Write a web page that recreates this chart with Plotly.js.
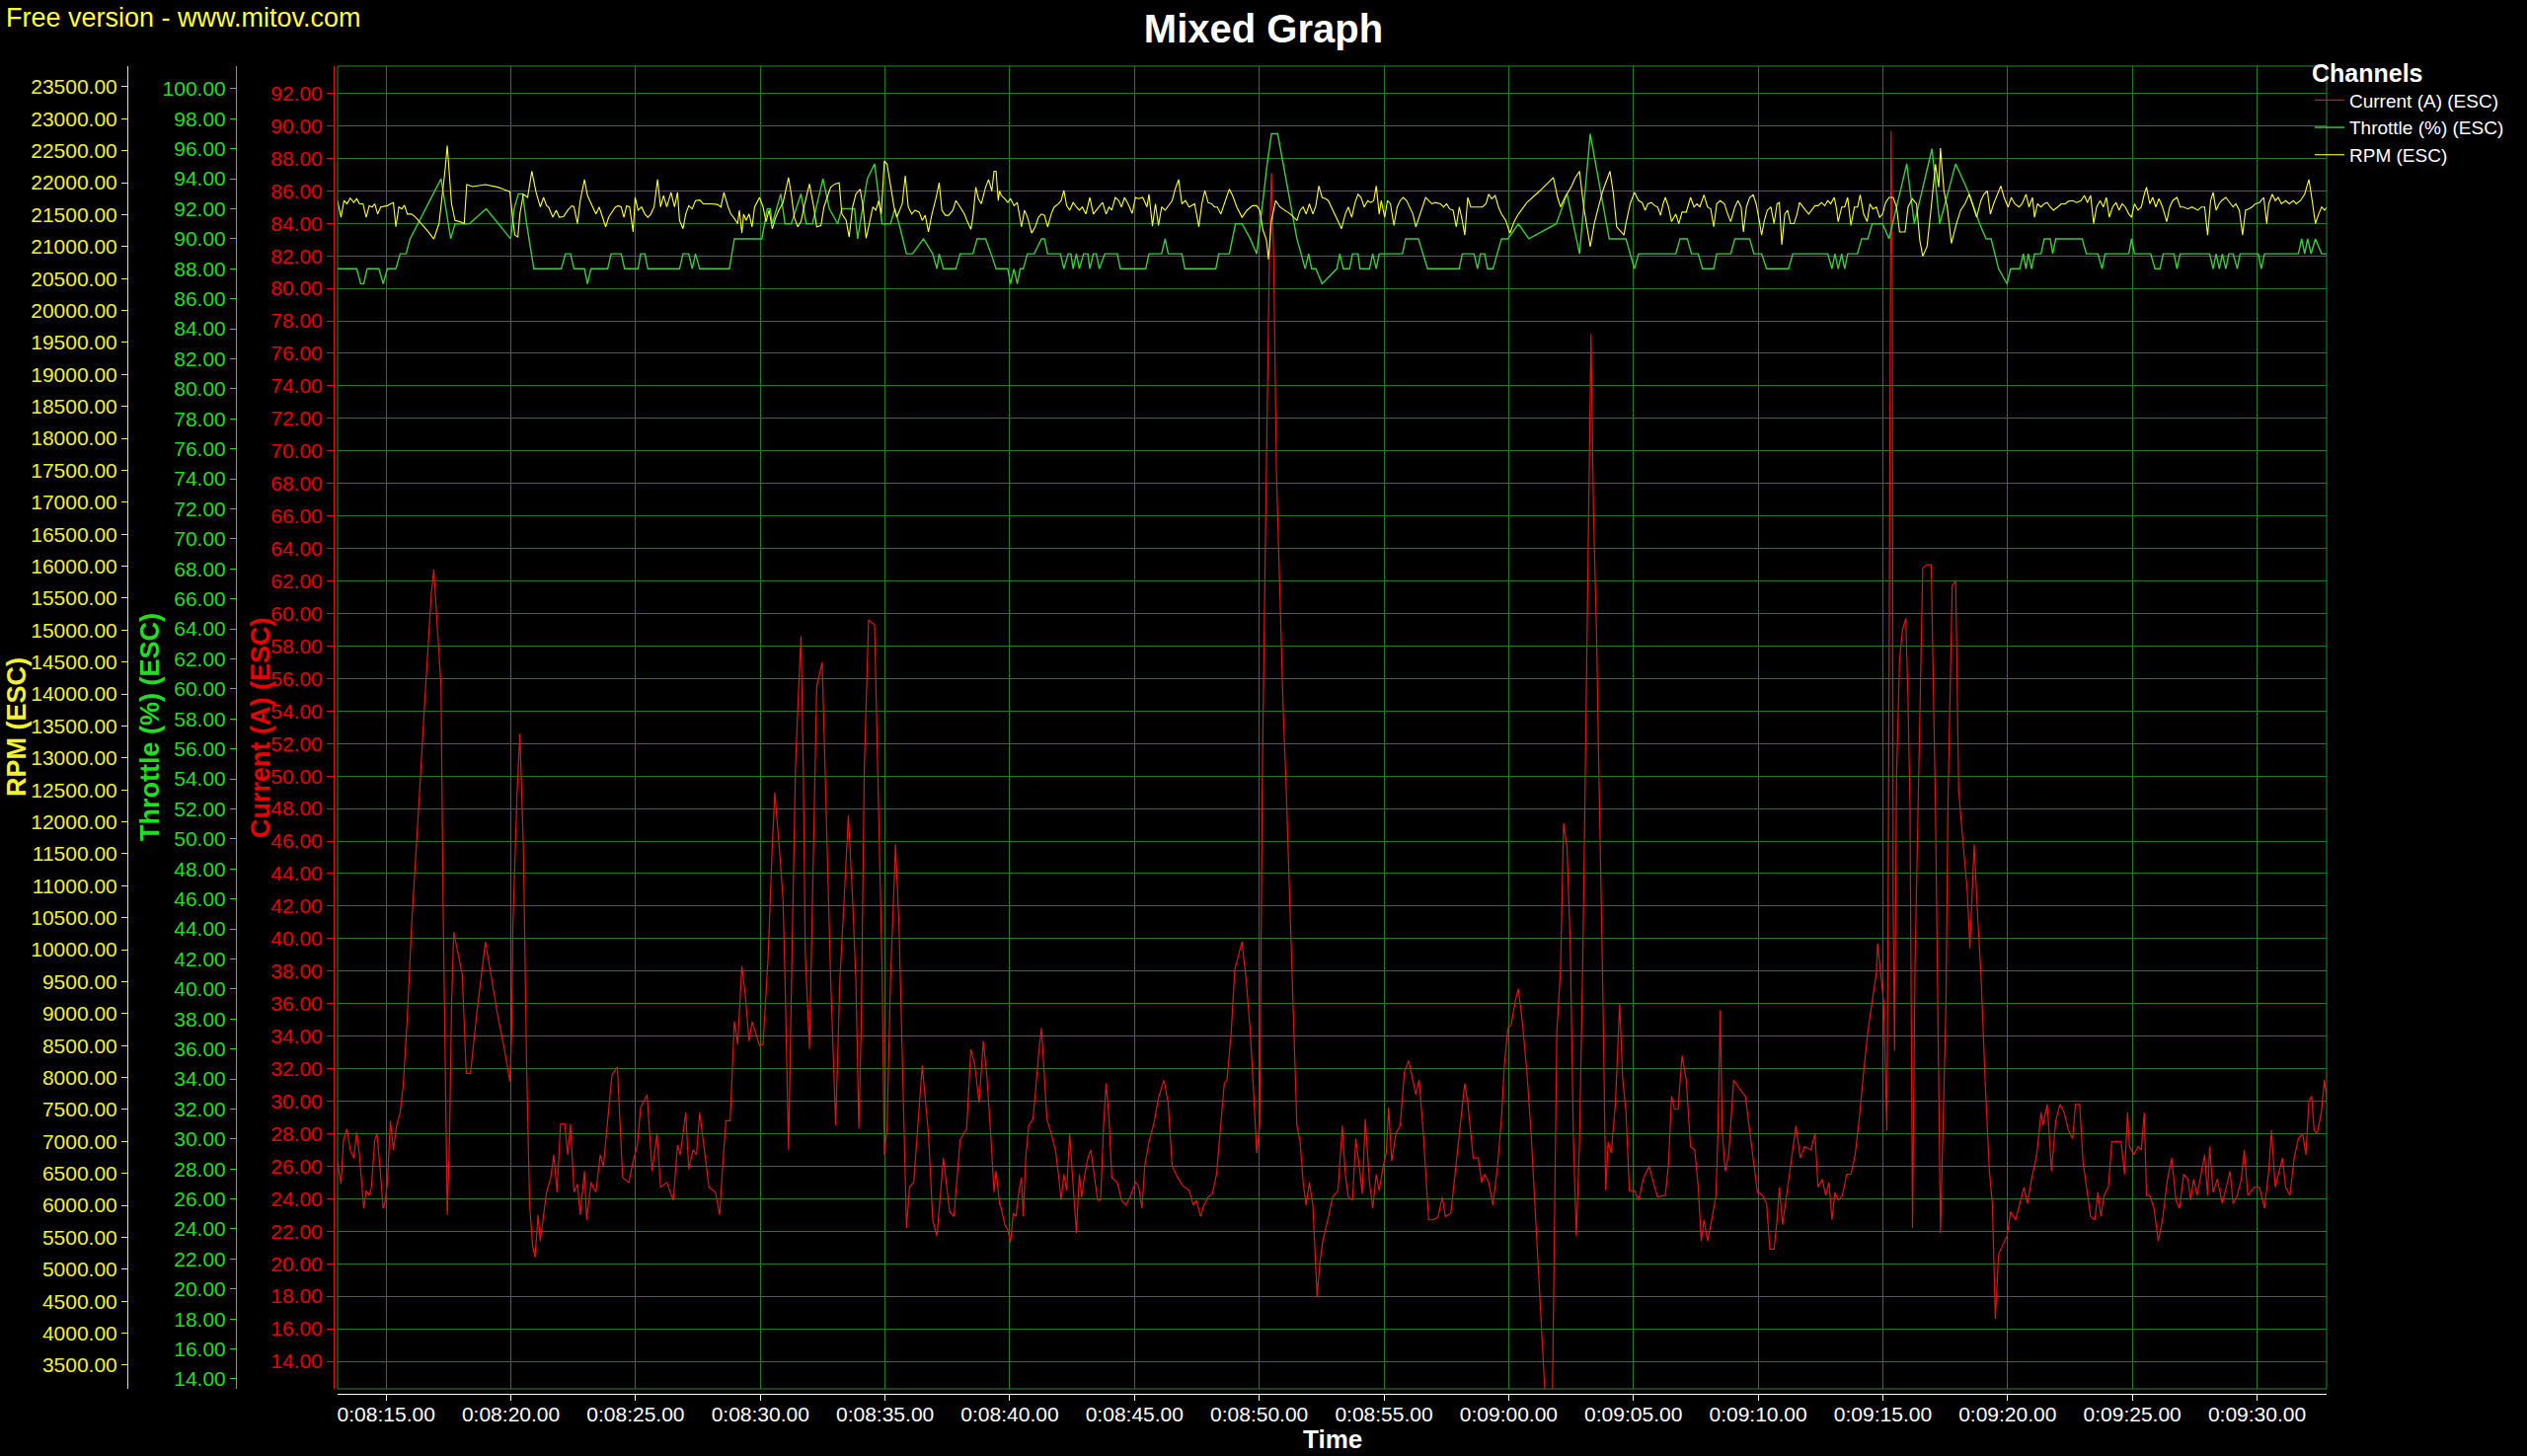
<!DOCTYPE html>
<html>
<head>
<meta charset="utf-8">
<script src="https://cdn.plot.ly/plotly-3.0.1.min.js"></script>
<style>
  html, body { margin: 0; padding: 0; background: #000; }
  #chart { width: 2560px; height: 1475px; }
</style>
</head>
<body>
<div id="chart"></div>
<script>
// ---------------- DATA (time in seconds since 0:00:00) ----------------
const chartTitle = 'Mixed Graph';
const seriesNames = ['Current (A) (ESC)', 'Throttle (%) (ESC)', 'RPM (ESC)'];
const axisTitles = ['Current (A) (ESC)', 'Throttle (%) (ESC)', 'RPM (ESC)'];
const xAxisTitle = 'Time';
const legendTitle = 'Channels';
const watermark = 'Free version - www.mitov.com';
const timeRange = [493.053, 572.79];   // visible time window (s)
const timeTickStart = 495;             // 0:08:15.00
const timeTickStep = 5;                // seconds
const currentRange = [12.30, 93.67];
const throttleRange = [13.34, 101.51];
const rpmRange = [3129, 23824];

const currentTime = [
493.05,493.19,493.29,493.43,493.56,493.70,493.82,493.93,494.10,494.20,
494.32,494.41,494.54,494.63,494.75,494.88,494.97,495.05,495.17,495.29,
495.42,495.56,495.68,495.85,496.02,496.18,496.35,496.52,496.69,496.81,
496.91,497.03,497.20,497.28,497.37,497.45,497.54,497.62,497.71,497.79,
498.05,498.21,498.38,498.64,498.98,499.23,499.48,499.74,499.96,500.03,
500.08,500.25,500.36,500.50,500.63,500.75,500.87,500.97,501.09,501.18,
501.29,501.43,501.60,501.72,501.85,501.99,502.16,502.28,502.39,502.53,
502.67,502.78,502.95,503.04,503.21,503.41,503.58,503.71,504.05,504.27,
504.48,504.73,504.90,505.07,505.20,505.46,505.66,505.86,506.00,506.25,
506.51,506.68,506.79,507.01,507.13,507.30,507.44,507.57,507.78,507.94,
508.20,508.37,508.49,508.62,508.79,508.96,509.09,509.26,509.38,509.55,
509.67,509.97,510.11,510.31,510.48,510.58,510.79,510.91,510.99,511.13,
511.29,511.41,511.53,511.63,511.72,511.80,511.97,512.14,512.26,512.48,
512.68,512.82,513.02,513.19,513.36,513.53,513.70,513.83,513.95,514.04,
514.17,514.34,514.58,514.71,514.88,514.97,515.08,515.22,515.42,515.56,
515.69,515.86,515.98,516.15,516.49,516.74,516.91,517.08,517.34,517.59,
517.76,518.01,518.27,518.44,518.60,518.77,518.94,519.08,519.25,519.37,
519.45,519.59,
519.66,519.80,519.92,520.03,520.14,520.25,520.37,520.47,520.54,520.64,
520.76,520.93,521.05,521.15,521.27,521.39,521.49,521.66,521.83,521.95,
522.06,522.17,522.28,522.40,522.54,522.67,522.79,522.88,523.01,523.13,
523.25,523.38,523.52,523.64,523.76,523.86,523.98,524.09,524.31,524.48,
524.65,524.82,525.04,525.16,525.30,525.41,525.58,525.79,525.96,526.18,
526.35,526.51,526.73,526.94,527.19,527.36,527.48,527.65,527.78,527.95,
528.12,528.29,528.43,528.60,528.71,528.88,529.02,529.31,529.48,529.64,
529.78,529.90,530.02,530.12,530.24,530.32,530.41,530.49,530.58,530.69,
530.83,530.96,531.08,531.25,531.37,531.51,531.64,531.76,531.88,532.01,
532.15,532.32,532.44,532.55,532.78,532.94,533.16,533.28,533.33,533.45,
533.57,533.74,533.87,534.01,534.13,534.25,534.42,534.55,534.69,534.81,
534.97,535.09,535.19,535.31,535.48,535.65,535.82,535.99,536.16,536.28,
536.41,536.58,536.79,537.00,537.17,537.34,537.46,537.68,537.85,538.07,
538.24,538.36,538.58,538.78,538.92,539.04,539.20,539.37,539.54,539.71,
539.83,539.97,540.10,540.27,540.39,540.56,540.73,540.90,541.12,541.70,
541.93,542.08,542.20,542.34,542.47,542.59,542.71,542.84,542.98,543.10,
543.21,543.30,543.40,543.52,543.60,543.69,543.77,543.89,543.99,544.11,
544.28,544.45,544.57,544.70,544.84,545.04,545.21,545.41,545.63,545.80,
545.97,546.19,
546.28,546.41,546.53,546.65,546.79,546.95,547.12,547.29,547.46,547.60,
547.72,547.83,547.97,548.14,548.31,548.39,548.48,548.56,548.68,548.82,
549.02,549.24,549.49,549.66,549.83,549.97,550.17,550.34,550.47,550.64,
550.76,550.85,550.98,551.18,551.35,551.52,551.69,551.86,552.12,552.28,
552.40,552.57,552.71,552.84,552.96,553.08,553.21,553.38,553.55,553.72,
553.89,554.06,554.23,554.40,554.57,554.74,554.79,554.91,555.03,555.08,
555.16,555.21,555.28,555.33,555.38,555.41,555.47,555.55,555.67,555.79,
555.92,556.01,556.09,556.19,556.29,556.43,556.60,556.77,556.94,557.11,
557.31,557.45,557.53,557.61,557.78,557.92,558.04,558.21,558.38,558.49,
558.66,558.80,558.93,559.10,559.27,559.39,559.51,559.64,559.81,559.98,
560.12,560.32,560.49,560.66,560.80,560.96,561.17,561.34,561.42,561.59,
561.76,561.93,562.10,562.27,562.44,562.61,562.72,562.89,563.03,563.20,
563.33,563.50,563.62,563.74,563.87,564.04,564.18,564.38,564.55,564.69,
564.81,564.89,565.06,565.23,565.36,565.48,565.57,565.70,565.87,566.04,
566.21,566.41,566.58,566.75,566.89,567.06,567.23,567.34,567.46,567.60,
567.77,567.90,568.02,568.10,568.24,568.41,568.61,568.78,568.92,569.04,
569.21,569.37,569.49,569.63,569.88,570.10,570.30,570.47,570.58,570.73,
570.90,571.02,571.15,571.32,571.49,571.66,571.83,571.96,572.08,572.19,
572.29,572.41,572.58,572.70,572.81
];
const currentAmps = [
26.3,24.9,27.6,28.3,27.0,26.5,28.1,26.7,23.4,24.5,
24.2,24.7,27.6,28.0,26.0,23.4,23.9,25.0,28.8,27.0,
28.5,29.3,30.9,35.2,40.8,45.3,49.3,53.9,58.1,61.2,
62.7,59.8,55.5,42.4,31.6,23.0,27.6,35.8,40.4,39.8,
37.8,31.7,31.7,35.5,39.8,37.5,35.2,33.2,31.2,34.2,
40.8,49.0,52.6,45.7,32.2,23.7,21.1,20.4,23.0,21.4,
22.7,24.4,25.3,26.7,24.4,28.6,28.6,26.7,28.6,24.4,
24.9,23.0,25.7,22.7,25.0,24.4,26.7,26.0,31.6,32.1,
25.3,25.0,26.3,27.3,29.6,30.4,25.7,28.0,24.7,25.0,
23.9,27.3,26.7,29.3,25.8,27.0,26.7,29.3,26.7,24.7,
24.4,23.0,26.0,28.8,28.8,34.9,33.5,38.3,36.8,33.7,
34.9,33.4,33.5,38.8,45.7,49.0,45.0,42.4,37.5,27.0,
40.8,50.6,55.2,58.6,50.6,39.1,33.2,47.3,55.5,57.0,
46.0,37.5,28.5,37.5,42.4,47.6,42.4,37.5,28.3,34.2,
50.6,59.6,59.3,50.6,38.1,26.7,28.3,37.5,45.8,40.8,
32.6,22.2,24.7,25.0,32.2,28.0,22.7,21.7,26.5,23.2,
22.9,27.6,28.3,33.2,32.2,29.9,33.7,31.6,27.6,24.4,
25.7,23.7,
23.4,22.4,22.1,21.3,23.1,22.9,24.5,25.3,22.9,26.5,
28.5,28.9,30.9,32.8,34.5,31.8,28.9,28.0,27.0,25.5,
23.9,25.5,24.5,28.0,25.0,21.9,25.5,24.1,25.5,26.5,
27.0,25.5,23.9,23.9,28.5,31.1,28.9,25.3,25.0,23.9,
23.6,24.1,25.0,24.8,23.4,26.0,27.5,28.7,30.2,31.3,
29.9,26.0,25.3,24.8,24.5,23.6,23.9,22.9,23.6,24.1,
24.3,25.5,28.0,31.1,31.3,34.3,38.1,39.8,37.4,34.3,
30.4,26.8,28.5,49.3,63.8,73.5,82.2,87.1,81.8,68.7,
60.4,54.1,49.3,41.0,35.7,28.5,27.5,25.0,23.6,25.0,
23.6,18.0,20.2,21.4,22.9,24.1,24.5,27.0,28.5,25.5,
24.1,23.9,27.7,26.0,24.3,28.9,25.0,23.4,25.5,24.5,
26.0,26.8,29.6,26.3,28.0,28.5,31.8,32.5,31.3,30.4,
31.3,28.0,22.7,22.7,22.9,24.1,22.9,23.1,25.5,28.5,
31.1,29.9,26.5,26.5,25.0,25.5,25.0,23.6,25.8,28.9,
32.3,34.5,34.7,36.2,36.9,34.7,31.8,28.0,21.2,5.0,
34.3,38.1,47.1,45.6,39.6,28.0,21.7,27.5,39.6,54.1,
68.7,77.2,66.2,59.0,51.7,44.9,37.2,24.5,27.5,26.8,
29.9,36.0,31.4,29.4,24.5,24.5,23.9,25.3,26.0,25.0,
24.1,24.2,
24.2,26.2,30.3,29.5,29.5,32.8,31.3,27.2,27.0,24.7,
21.4,22.7,21.4,22.7,24.2,28.2,35.6,28.2,25.7,26.7,
31.3,30.8,30.3,28.2,26.2,24.4,24.2,23.7,20.9,20.9,
22.7,24.7,22.4,24.7,26.7,28.5,26.5,27.2,27.0,28.0,
24.7,25.2,24.2,25.0,22.7,24.4,23.9,24.2,25.5,25.5,
26.7,29.0,31.8,34.3,36.1,37.9,39.7,37.9,36.1,33.3,
28.2,40.9,66.3,89.7,80.0,42.5,33.1,50.1,57.2,59.0,
59.7,54.6,48.0,22.2,38.4,48.5,62.8,63.0,63.0,48.0,
21.9,30.8,35.9,48.3,61.7,62.0,49.1,46.0,43.0,39.4,
45.8,41.4,37.9,31.3,25.7,23.7,16.6,20.6,21.2,21.7,
23.2,22.7,23.7,24.7,23.7,25.2,26.7,29.3,28.5,29.8,
25.7,28.8,29.8,29.3,28.2,27.7,29.8,29.8,26.2,24.2,
22.9,22.7,24.4,22.9,24.2,24.7,27.5,27.5,27.5,25.5,
29.3,27.2,26.7,27.2,27.0,29.3,24.2,24.2,23.4,21.4,
22.7,25.2,26.5,23.9,23.4,25.5,25.2,23.9,25.2,24.2,
25.7,26.7,24.2,27.2,24.4,25.2,23.7,24.7,25.7,23.7,
24.2,25.2,27.0,24.2,24.7,24.7,23.4,25.7,28.2,24.7,
25.7,26.5,24.7,24.2,26.5,27.7,28.0,26.7,30.0,30.3,
28.2,28.0,29.3,31.3,30.0
];

const throttleTime = [
493.05,493.82,493.98,494.10,494.24,494.71,494.88,495.05,495.39,495.56,
495.80,495.96,497.20,497.59,497.76,498.33,499.01,499.99,500.13,500.30,
500.47,500.63,500.92,502.02,502.19,502.39,502.53,502.95,503.07,503.21,
503.88,504.02,504.42,504.56,505.10,505.20,505.37,505.49,506.76,506.90,
507.13,507.27,507.40,507.57,508.76,508.96,510.06,510.28,510.40,510.48,
510.82,510.99,511.24,511.63,511.84,512.09,512.51,512.77,513.10,513.27,
513.78,513.90,514.29,514.58,514.88,515.22,515.39,515.56,515.86,516.10,
516.54,516.91,517.08,517.17,517.34,517.84,518.01,518.52,518.69,519.03,
519.25,519.45,
519.66,519.92,520.03,520.17,520.30,520.42,520.54,520.71,520.98,521.27,
521.39,521.52,522.03,522.17,522.34,522.45,522.54,522.67,522.79,522.96,
523.13,523.21,523.35,523.47,523.59,523.81,524.31,524.43,525.45,525.58,
526.09,526.23,526.35,526.90,527.02,528.26,528.38,528.80,529.05,529.31,
529.64,529.90,530.32,530.49,530.74,531.51,531.68,531.84,531.98,532.10,
532.27,532.52,533.11,533.23,533.37,533.62,533.74,533.96,534.04,534.42,
534.55,534.69,534.81,534.97,535.74,535.87,536.38,536.75,538.02,538.14,
538.61,538.75,538.87,539.04,539.15,539.37,539.54,539.71,539.97,540.39,
540.81,541.91,542.34,542.84,543.27,544.03,544.70,544.87,545.04,545.21,
546.19,
546.28,546.70,546.87,547.16,547.33,547.60,547.77,548.22,548.34,548.90,
549.07,549.66,549.83,550.14,550.34,551.22,551.39,552.79,552.96,553.08,
553.21,553.35,553.47,553.59,553.98,554.15,554.40,554.57,554.99,555.25,
555.96,556.26,556.97,557.28,557.92,558.46,558.88,559.14,559.34,559.64,
559.98,560.12,560.49,560.63,560.74,560.83,560.96,561.08,561.34,561.47,
561.71,561.81,561.93,562.99,563.16,563.62,563.79,563.91,564.86,564.97,
565.09,565.74,565.91,566.11,566.24,566.67,566.79,566.92,568.10,568.24,
568.36,568.49,568.61,568.75,568.87,569.04,569.21,569.32,570.05,570.17,
570.30,571.66,571.79,571.91,572.03,572.17,572.34,572.59,572.81
];
const throttlePct = [
88,88,87,87,88,88,87,88,88,89,
89,90,94,90,91,91,92,90,92,93,
93,91,88,88,89,89,88,88,87,88,
88,89,89,88,88,89,89,88,88,89,
89,88,89,88,88,90,90,92,92,91,
93,91,91,93,91,91,94,92,91,92,
92,90,94,95,91,91,92,91,89,89,
90,89,88,89,88,88,89,89,90,90,
89,88,
88,88,87,88,87,88,88,89,89,90,
90,89,89,88,89,89,88,89,88,89,
89,88,89,89,88,89,89,88,88,89,
89,90,89,89,88,88,89,89,91,91,
90,89,95,97,97,90,89,88,89,88,
88,87,88,89,88,88,89,89,88,88,
89,88,89,89,89,90,90,88,88,89,
89,88,89,89,88,88,89,90,90,91,
90,91,93,89,97,90,90,89,88,89,
89,
89,89,90,90,89,89,88,88,89,89,
90,90,89,89,88,88,89,89,88,89,
88,89,88,89,89,90,90,91,91,90,
95,91,96,91,95,93,91,90,90,88,
87,88,88,89,88,89,88,89,89,90,
90,89,90,90,89,89,88,89,89,90,
89,89,88,88,89,89,88,89,89,88,
89,88,89,88,89,89,88,89,89,88,
89,89,90,89,90,89,90,89,89
];

const rpmTime = [
493.05,493.19,493.31,493.43,493.56,493.70,493.82,493.93,494.07,494.20,
494.32,494.44,494.54,494.66,494.78,494.92,495.05,495.17,495.29,495.39,
495.51,495.63,495.73,495.85,496.02,496.18,496.35,496.52,496.69,496.91,
497.12,497.28,497.37,497.45,497.54,497.62,497.76,497.96,498.13,498.23,
498.47,498.98,499.48,499.96,500.08,500.16,500.28,500.36,500.50,500.67,
500.84,501.01,501.18,501.31,501.43,501.51,501.68,501.82,501.94,502.11,
502.28,502.45,502.53,502.67,502.78,502.95,503.07,503.17,503.29,503.41,
503.54,503.68,503.80,503.92,504.05,504.19,504.31,504.42,504.53,504.64,
504.76,504.90,504.98,505.10,505.24,505.37,505.49,505.61,505.74,505.88,
506.00,506.12,506.25,506.42,506.56,506.68,506.76,506.90,507.01,507.13,
507.27,507.40,507.57,507.71,508.03,508.28,508.42,508.54,508.71,508.82,
508.96,509.09,509.16,509.26,509.33,509.43,509.55,509.67,509.77,509.97,
510.11,510.23,510.35,510.48,510.62,510.74,510.91,511.13,511.24,511.36,
511.50,511.63,511.75,511.87,511.97,512.14,512.26,512.43,512.55,512.68,
512.82,512.99,513.16,513.27,513.44,513.56,513.70,513.83,514.00,514.12,
514.24,514.37,514.51,514.63,514.75,514.85,514.97,515.08,515.22,515.36,
515.47,515.59,515.69,515.81,515.93,516.07,516.20,516.37,516.49,516.61,
516.74,516.88,517.05,517.17,517.28,517.42,517.55,517.72,517.84,518.01,
518.18,518.30,518.44,518.52,518.64,518.74,518.86,519.03,519.15,519.28,
519.37,519.45,519.54,519.59,
519.66,519.80,519.92,520.03,520.17,520.30,520.47,520.59,520.71,520.88,
521.02,521.15,521.27,521.39,521.52,521.66,521.78,521.95,522.06,522.17,
522.28,522.40,522.54,522.67,522.79,522.91,523.05,523.21,523.35,523.47,
523.59,523.72,523.86,523.98,524.09,524.23,524.37,524.48,524.60,524.74,
524.91,525.04,525.16,525.33,525.50,525.58,525.72,525.84,525.96,526.09,
526.23,526.40,526.51,526.63,526.77,526.90,527.04,527.19,527.41,527.58,
527.70,527.82,527.95,528.09,528.21,528.32,528.46,528.60,528.80,528.93,
529.10,529.31,529.51,529.73,529.90,530.02,530.15,530.29,530.37,530.49,
530.66,530.83,531.03,531.25,531.51,531.64,531.76,531.88,532.01,532.15,
532.27,532.39,532.52,532.66,532.77,532.89,533.03,533.16,533.30,533.45,
533.57,533.71,533.84,533.96,534.08,534.21,534.35,534.47,534.59,534.69,
534.81,534.89,535.03,535.14,535.26,535.40,535.53,535.65,535.77,535.91,
536.04,536.16,536.28,536.41,536.55,536.67,536.79,536.92,537.06,537.26,
537.39,537.51,537.63,537.77,537.90,538.02,538.14,538.24,538.36,538.48,
538.70,538.95,539.09,539.20,539.32,539.46,539.59,539.71,539.88,540.05,
540.22,540.39,540.73,541.24,541.79,541.96,542.08,542.25,542.50,542.67,
542.84,543.01,543.27,543.43,543.60,543.77,544.06,544.20,544.33,544.53,
544.62,544.70,544.87,545.04,545.21,545.35,545.47,545.58,545.72,545.85,
545.97,546.09,546.19,
546.28,546.41,546.53,546.70,546.82,546.95,547.12,547.29,547.43,547.55,
547.66,547.83,547.97,548.10,548.22,548.34,548.48,548.65,548.78,548.90,
549.07,549.19,549.32,549.41,549.53,549.66,549.80,549.92,550.03,550.14,
550.25,550.37,550.51,550.64,550.76,550.85,550.95,551.07,551.18,551.30,
551.44,551.56,551.66,551.78,551.90,552.03,552.17,552.28,552.40,552.54,
552.67,552.79,552.91,553.05,553.13,553.21,553.35,553.47,553.59,553.72,
553.86,553.99,554.09,554.23,554.37,554.48,554.60,554.74,554.87,554.99,
555.11,555.25,555.41,555.55,555.67,555.89,556.01,556.18,556.35,556.48,
556.60,556.77,556.94,557.11,557.24,557.31,557.45,557.58,557.75,557.95,
558.12,558.29,558.46,558.63,558.76,558.93,559.05,559.19,559.31,559.44,
559.61,559.73,559.86,560.02,560.15,560.29,560.46,560.58,560.74,560.86,
561.00,561.08,561.20,561.34,561.47,561.59,561.71,561.84,562.01,562.15,
562.32,562.44,562.61,562.77,562.94,563.08,563.20,563.33,563.45,563.57,
563.71,563.84,563.96,564.08,564.21,564.35,564.47,564.59,564.72,564.86,
564.97,565.09,565.23,565.36,565.48,565.57,565.70,565.82,565.94,566.07,
566.21,566.38,566.50,566.62,566.79,566.92,567.06,567.23,567.39,567.51,
567.63,567.77,567.90,568.02,568.14,568.24,568.36,568.48,568.58,568.75,
568.92,569.04,569.15,569.29,569.42,569.54,569.66,569.80,569.93,570.10,
570.27,570.39,570.47,570.61,570.73,570.85,570.98,571.15,571.29,571.46,
571.57,571.74,571.91,572.08,572.20,572.34,572.47,572.59,572.71,572.81
];
const rpmValue = [
21720,21460,21720,21670,21760,21690,21750,21670,21670,21460,
21640,21620,21670,21510,21620,21630,21640,21670,21690,21310,
21620,21590,21650,21510,21510,21460,21390,21310,21230,21120,
21360,21870,22230,22580,22130,21670,21410,21390,21360,21970,
21940,21970,21930,21860,21410,21180,21150,21510,21820,21770,
22180,21850,21620,21770,21640,21620,21460,21570,21460,21470,
21570,21640,21620,21360,21720,22050,21800,21720,21620,21510,
21620,21440,21310,21460,21540,21620,21640,21620,21460,21640,
21620,21230,21770,21570,21620,21510,21460,21510,21620,22050,
21620,21800,21620,21850,21620,21850,21410,21280,21510,21640,
21590,21720,21730,21670,21670,21660,21620,21850,21620,21510,
21440,21360,21570,21210,21510,21410,21510,21310,21620,21770,
21620,21390,21570,21280,21460,21570,21690,22080,21820,21460,
21310,21390,21620,21820,21980,21620,21310,21330,21620,21770,
21930,21980,22000,21510,21410,21150,21620,21820,21900,21620,
21130,21360,21620,21570,21720,21510,22340,22290,21980,21620,
21460,21570,21670,22110,21620,21510,21570,21540,21410,21490,
21230,21510,21770,22000,21570,21490,21490,21570,21720,21620,
21510,21390,21270,21460,21930,21750,21670,21930,22050,21870,
22180,22180,21720,21870,
21800,21750,21690,21750,21640,21690,21310,21570,21460,21210,
21310,21460,21510,21490,21310,21510,21620,21670,21720,21880,
21640,21570,21690,21620,21570,21620,21510,21770,21510,21570,
21620,21690,21510,21620,21570,21770,21720,21620,21770,21670,
21520,21770,21750,21770,21620,21820,21320,21670,21330,21620,
21570,21670,21720,21900,22050,21670,21720,21620,21670,21310,
21670,21880,21690,21670,21620,21620,21510,21670,21900,21800,
21620,21460,21570,21640,21640,21570,21260,21100,20800,21410,
21720,21620,21570,21510,21410,21570,21620,21510,21670,21510,
21640,21950,21770,21750,21720,21620,21510,21410,21280,21510,
21620,21460,21690,21820,21770,21620,21720,21690,21720,21950,
21510,21720,21460,21720,21670,21330,21620,21720,21770,21720,
21620,21510,21310,21460,21620,21770,21720,21670,21690,21670,
21620,21670,21590,21570,21310,21620,21410,21180,21770,21620,
21620,21620,21670,21820,21750,21800,21620,21510,21410,21210,
21390,21510,21690,21870,22080,21770,21620,21770,21930,22080,
22180,21620,21000,21360,21620,21870,22180,21820,21310,21210,
21180,21360,21670,21850,21720,21690,21570,21670,21690,21640,
21620,21490,21670,
21770,21620,21390,21510,21360,21540,21540,21770,21620,21670,
21620,21810,21620,21590,21310,21670,21720,21670,21510,21390,
21620,21720,21620,21230,21620,21770,21810,21670,21440,21180,
21410,21570,21620,21360,21670,21690,21030,21510,21570,21360,
21360,21510,21690,21620,21570,21510,21590,21640,21640,21690,
21640,21720,21670,21770,21620,21390,21620,21620,21770,21330,
21620,21620,21810,21510,21390,21670,21590,21620,21460,21510,
21690,21770,21770,21620,21230,21230,21620,21750,21670,21100,
20850,21000,21620,22290,21930,22540,21870,21620,21050,21360,
21570,21670,21820,21620,21460,21720,21820,21870,21510,21670,
21820,21950,21770,21620,21770,21670,21620,21670,21820,21620,
21770,21460,21670,21620,21670,21690,21620,21570,21620,21670,
21670,21710,21720,21690,21720,21800,21690,21800,21360,21620,
21720,21620,21770,21460,21620,21690,21570,21670,21620,21510,
21460,21670,21570,21620,21820,21930,21670,21770,21620,21750,
21620,21390,21620,21720,21770,21620,21620,21590,21620,21590,
21570,21620,21620,21180,21720,21850,21570,21670,21720,21770,
21670,21620,21670,21570,21180,21570,21590,21620,21670,21690,
21770,21360,21670,21820,21720,21770,21670,21720,21670,21720,
21670,21720,21820,22050,21750,21360,21510,21620,21570,21620
];

// ---------------- STYLE ----------------
const W = 2560, H = 1475;
const PX = x => x / W;
const PY = y => 1 - y / H;
const FONT = 'Liberation Sans, Arial, Helvetica, sans-serif';
const GRID = '#237a23';
const RED_LINE = '#e01414', RED_TXT = '#e80000';
const GRN_LINE = '#3ccc3c', GRN_TXT = '#22dd22';
const YEL_LINE = '#ffff30', YEL_TXT = '#f2f230';
const plotL = 342, plotR = 2357, plotT = 67, plotB = 1407;

const toMs = s => s * 1000;

const traces = [
  { type: 'scatter', mode: 'lines', name: seriesNames[0],
    x: currentTime.map(toMs), y: currentAmps, xaxis: 'x', yaxis: 'y',
    line: { color: RED_LINE, width: 1.2 } },
  { type: 'scatter', mode: 'lines', name: seriesNames[1],
    x: throttleTime.map(toMs), y: throttlePct, xaxis: 'x', yaxis: 'y2',
    line: { color: GRN_LINE, width: 1.4 } },
  { type: 'scatter', mode: 'lines', name: seriesNames[2],
    x: rpmTime.map(toMs), y: rpmValue, xaxis: 'x', yaxis: 'y3',
    line: { color: YEL_LINE, width: 1.1 } }
];

function yAxis(color, txt, pos, range, dtick, extra) {
  return Object.assign({
    anchor: 'free', position: PX(pos), side: 'left', range: range,
    dtick: dtick, tick0: 0, tickformat: '.2f',
    showline: true, linecolor: color, linewidth: 1,
    ticks: 'outside', ticklen: 6, tickwidth: 1, tickcolor: color,
    tickfont: { family: FONT, size: 21, color: txt },
    showgrid: false, zeroline: false, fixedrange: true
  }, extra || {});
}

const layout = {
  width: W, height: H, autosize: false,
  margin: { l: 0, r: 0, t: 0, b: 0, pad: 0 },
  paper_bgcolor: '#000000', plot_bgcolor: '#000000',
  font: { family: FONT, color: '#ffffff' },
  showlegend: true,
  title: { text: chartTitle, x: 0.5, xanchor: 'center', xref: 'paper',
           y: PY(29), yanchor: 'middle', yref: 'paper',
           font: { family: FONT, size: 40, color: '#ffffff', weight: 'bold' } },
  xaxis: {
    type: 'date', domain: [PX(plotL), PX(plotR)],
    anchor: 'free', position: PY(1412), side: 'bottom',
    range: timeRange.map(toMs), tick0: toMs(timeTickStart), dtick: toMs(timeTickStep),
    tickformat: '%-H:%M:%S.00',
    showline: true, linecolor: '#ffffff', linewidth: 1,
    ticks: 'outside', ticklen: 6, tickcolor: '#ffffff',
    ticklabelstandoff: -4,
    tickfont: { family: FONT, size: 21, color: '#ffffff' },
    showgrid: true, gridcolor: GRID, gridwidth: 1,
    zeroline: false, fixedrange: true
  },
  yaxis: yAxis(RED_LINE, RED_TXT, 338, currentRange, 2,
    { domain: [PY(plotB), PY(plotT)], showgrid: true, gridcolor: GRID, gridwidth: 1, ticklen: 7 }),
  yaxis2: yAxis(GRN_TXT, GRN_TXT, 239, throttleRange, 2, { overlaying: 'y' }),
  yaxis3: yAxis(YEL_TXT, YEL_TXT, 129, rpmRange, 500, { overlaying: 'y' }),
  legend: {
    x: PX(2340), y: PY(50), xanchor: 'left', yanchor: 'top',
    bgcolor: 'rgba(0,0,0,0)', borderwidth: 0,
    font: { family: FONT, size: 19, color: '#ffffff' },
    title: { text: legendTitle, font: { family: FONT, size: 25, color: '#ffffff', weight: 'bold' } },
    itemwidth: 30, tracegroupgap: 0
  },
  shapes: [
    { type: 'rect', xref: 'paper', yref: 'paper',
      x0: PX(plotL), x1: PX(plotR), y0: PY(plotB), y1: PY(plotT),
      line: { color: '#2a8a2a', width: 1 }, fillcolor: 'rgba(0,0,0,0)', layer: 'above' }
  ],
  annotations: [
    { text: watermark, xref: 'paper', yref: 'paper', x: PX(4), y: PY(18),
      xanchor: 'left', yanchor: 'middle', showarrow: false,
      font: { family: FONT, size: 27, color: '#ffff3c' } },
    { text: axisTitles[2], xref: 'paper', yref: 'paper', x: PX(17), y: PY((plotT + plotB) / 2),
      textangle: -90, xanchor: 'center', yanchor: 'middle', showarrow: false,
      font: { family: FONT, size: 27, color: YEL_TXT, weight: 'bold' } },
    { text: axisTitles[1], xref: 'paper', yref: 'paper', x: PX(152), y: PY((plotT + plotB) / 2),
      textangle: -90, xanchor: 'center', yanchor: 'middle', showarrow: false,
      font: { family: FONT, size: 27, color: GRN_TXT, weight: 'bold' } },
    { text: axisTitles[0], xref: 'paper', yref: 'paper', x: PX(264), y: PY((plotT + plotB) / 2),
      textangle: -90, xanchor: 'center', yanchor: 'middle', showarrow: false,
      font: { family: FONT, size: 27, color: RED_TXT, weight: 'bold' } },
    { text: xAxisTitle, xref: 'paper', yref: 'paper', x: PX(1350), y: PY(1458),
      xanchor: 'center', yanchor: 'middle', showarrow: false,
      font: { family: FONT, size: 26, color: '#ffffff', weight: 'bold' } }
  ]
};

Plotly.newPlot('chart', traces, layout, { staticPlot: true, displayModeBar: false });
</script>
</body>
</html>
